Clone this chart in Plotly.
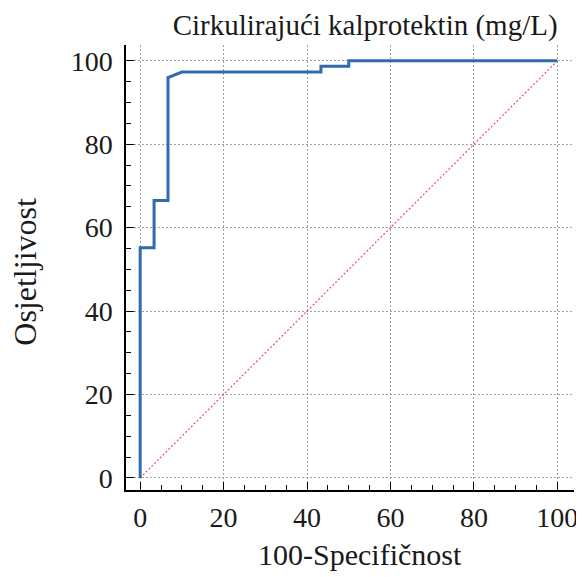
import plotly.graph_objects as go

# ROC curve data (100-Specificity, Sensitivity)
fpr = [0, 0, 3.33, 3.33, 6.67, 6.67, 10.0, 43.33, 43.33, 50.0, 50.0, 100]
tpr = [0, 55.2, 55.2, 66.5, 66.5, 96.0, 97.3, 97.3, 98.7, 98.7, 100, 100]
diag_x = [0, 100]
diag_y = [0, 100]

title_text = "Cirkulirajući kalprotektin (mg/L)"
x_title = "100-Specifičnost"
y_title = "Osjetljivost"

font_family = "Liberation Serif, Times New Roman, serif"
txt = "#1a1a1a"

fig = go.Figure()
fig.add_trace(go.Scatter(x=diag_x, y=diag_y, mode="lines",
                         line=dict(color="#d05a6e", width=1.2, dash="2px,2px"),
                         showlegend=False, hoverinfo="skip"))
fig.add_trace(go.Scatter(x=fpr, y=tpr, mode="lines",
                         line=dict(color="#2f6cae", width=3),
                         showlegend=False))

axis_common = dict(
    showline=True, linecolor="black", linewidth=1.5, mirror=False,
    ticks="inside", ticklen=8, tickwidth=1.2, tickcolor="black",
    tick0=0, dtick=20,
    showgrid=True, gridcolor="#a0a0a0", gridwidth=1, griddash="2px,2px",
    zeroline=False, automargin=False,
    tickfont=dict(family=font_family, size=28, color=txt),
    minor=dict(ticks="inside", ticklen=5, tickwidth=1, tickcolor="black",
               dtick=5, tick0=0, showgrid=False),
)

fig.update_layout(
    width=576, height=569,
    margin=dict(l=118, r=10, t=37, b=87),
    paper_bgcolor="white", plot_bgcolor="white",
    font=dict(family=font_family),
    title=dict(text=title_text, x=0.62, xanchor="center", y=0.971, yanchor="middle",
               font=dict(family=font_family, size=29, color=txt)),
    xaxis=dict(range=[-3.4, 104], ticklabelstandoff=2, **axis_common),
    yaxis=dict(range=[-2.9, 103.8], ticklabelstandoff=6, **axis_common),
    annotations=[
        dict(text=x_title, xref="paper", yref="paper", x=0.522, y=-0.146,
             xanchor="center", yanchor="middle", showarrow=False,
             font=dict(family=font_family, size=30, color=txt)),
        dict(text=y_title, xref="paper", yref="paper", x=-0.226, y=0.49,
             xanchor="center", yanchor="middle", showarrow=False, textangle=-90,
             font=dict(family=font_family, size=32, color=txt)),
    ],
)

fig.write_html("out.html")
